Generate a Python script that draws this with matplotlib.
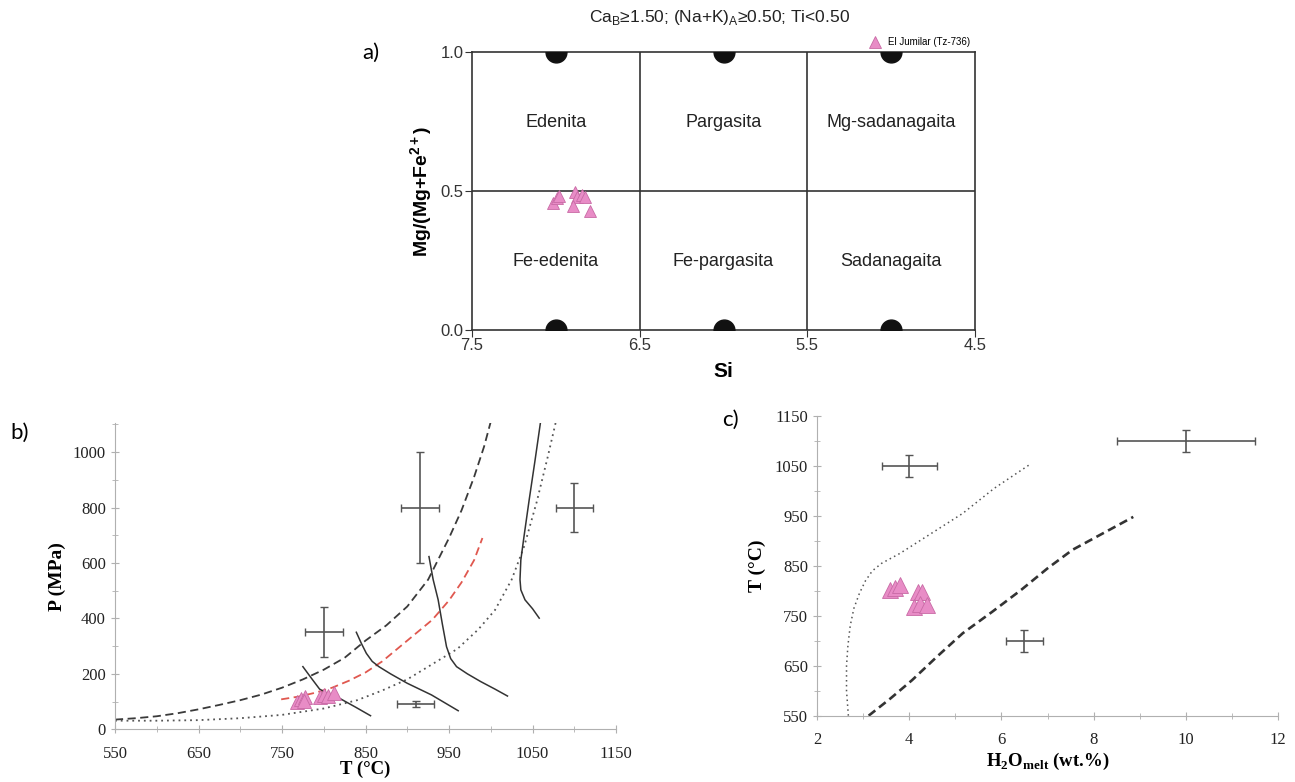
import numpy as np
import matplotlib
matplotlib.use("Agg")
import matplotlib.pyplot as plt
from matplotlib.ticker import MultipleLocator

plt.rcParams["mathtext.fontset"] = "custom"
plt.rcParams["mathtext.rm"] = "Liberation Serif"
plt.rcParams["mathtext.bf"] = "Liberation Serif:bold"

# ── panel a: classification diagram ──────────────────────────────────────────
a_si = [7.015, 6.991, 6.981, 6.886, 6.876, 6.846, 6.826, 6.900, 6.796]
a_mg = [0.456, 0.474, 0.482, 0.497, 0.479, 0.486, 0.477, 0.446, 0.429]
end_si = [7.0, 6.0, 5.0]
field_names_top = ["Edenita", "Pargasita", "Mg-sadanagaita"]
field_names_bot = ["Fe-edenita", "Fe-pargasita", "Sadanagaita"]

# ── panel b: P-T ─────────────────────────────────────────────────────────────
b_T = [768, 773, 778, 776, 795, 800, 805, 812]
b_P = [100, 108, 115, 103, 118, 124, 120, 132]
dash_T = [550, 575, 600, 625, 650, 675, 700, 725, 750, 775, 800, 825, 850, 875, 900, 925, 950, 965, 980, 992, 1000]
dash_P = [35, 40, 47, 58, 72, 88, 105, 125, 150, 180, 215, 258, 320, 375, 443, 540, 690, 790, 910, 1020, 1110]
red_T = [749, 770, 790, 810, 830, 850, 870, 890, 910, 930, 950, 965, 980, 990]
red_P = [108, 118, 132, 150, 175, 205, 245, 295, 345, 395, 465, 530, 610, 690]
dot_T = [550, 600, 650, 700, 750, 800, 840, 870, 900, 930, 960, 985, 1005, 1025, 1040, 1055, 1068, 1078]
dot_P = [31, 31, 33, 40, 52, 75, 105, 140, 180, 235, 290, 360, 430, 540, 660, 820, 980, 1110]
iso_T = [[775, 785, 795, 805, 820, 838, 856],
         [839, 845, 851, 858, 866, 880, 900, 929, 961],
         [926, 931, 937, 942, 947, 952, 959, 972, 988, 1005, 1020],
         [1060, 1053, 1046, 1040, 1036, 1035, 1036, 1041, 1050, 1058]]
iso_P = [[226, 185, 145, 128, 110, 80, 49],
         [350, 310, 274, 245, 226, 200, 166, 124, 67],
         [623, 540, 467, 380, 298, 255, 226, 200, 172, 145, 120],
         [1117, 970, 828, 700, 611, 540, 503, 467, 435, 401]]
b_err_T = [800, 915, 1100, 910]
b_err_P = [350, 800, 800, 91]
b_err_dT = [22.5, 22.5, 22, 22]
b_err_dP = [90, 200, 89, 10]

# ── panel c: T-H2O ───────────────────────────────────────────────────────────
c_h2o = [3.59, 3.70, 3.80, 4.18, 4.27, 4.10, 4.23, 4.38]
c_T = [802, 805, 812, 797, 798, 768, 774, 772]
cdot_h = [2.68, 2.64, 2.64, 2.67, 2.72, 2.80, 2.92, 3.05, 3.20, 3.40, 3.80, 4.48, 5.16, 5.84, 6.60]
cdot_T = [550, 600, 650, 690, 730, 765, 795, 820, 840, 855, 875, 915, 955, 1005, 1052]
cdash_h = [3.12, 3.6, 4.06, 4.6, 5.16, 5.8, 6.43, 7.0, 7.54, 8.2, 8.86]
cdash_T = [550, 585, 621, 668, 715, 758, 802, 845, 882, 915, 948]
c_err_h = [4.0, 10.0, 6.5]
c_err_T = [1050, 1100, 700]
c_err_dh = [0.6, 1.5, 0.4]
c_err_dT = [22, 22, 22]

PINK = "#e88cc6"
PINK_EDGE = "#c86aa5"
SERIF = ["Liberation Serif", "DejaVu Serif"]
SANS = ["Liberation Sans", "DejaVu Sans"]

fig = plt.figure(figsize=(12.95, 7.82), dpi=100)

# ── a) ───────────────────────────────────────────────────────────────────────
ax_a = fig.add_axes([0.3645, 0.578, 0.3884, 0.3555])
ax_a.set_xlim(7.5, 4.5)
ax_a.set_ylim(0, 1)
for s in (6.5, 5.5):
    ax_a.axvline(s, color="#333333", lw=1.2)
ax_a.axhline(0.5, color="#333333", lw=1.2)
for sp in ax_a.spines.values():
    sp.set_color("#333333")
    sp.set_linewidth(1.2)
ax_a.plot(end_si, [1.0] * 3, "o", color="#111111", ms=15, clip_on=True, zorder=3)
ax_a.plot(end_si, [0.0] * 3, "o", color="#111111", ms=15, clip_on=True, zorder=3)
for s, name in zip(end_si, field_names_top):
    ax_a.text(s, 0.745, name, ha="center", va="center", fontsize=13, family=SANS, color="#222222")
for s, name in zip(end_si, field_names_bot):
    ax_a.text(s, 0.245, name, ha="center", va="center", fontsize=13, family=SANS, color="#222222")
ax_a.plot(a_si, a_mg, "^", color=PINK, mec=PINK_EDGE, mew=0.6, ms=9, ls="none",
          label="El Jumilar (Tz-736)", zorder=4)
ax_a.set_xticks([7.5, 6.5, 5.5, 4.5])
ax_a.set_xticklabels(["7.5", "6.5", "5.5", "4.5"])
ax_a.set_yticks([0.0, 0.5, 1.0])
ax_a.set_yticklabels(["0.0", "0.5", "1.0"])
ax_a.tick_params(labelsize=12, length=5, color="#333333", labelcolor="#333333", pad=1)
for lab in ax_a.get_xticklabels() + ax_a.get_yticklabels():
    lab.set_family(SANS)
ax_a.set_xlabel("Si", fontsize=15, fontweight="bold", family=SANS, labelpad=6)
ax_a.set_ylabel(r"Mg/(Mg+Fe$^\mathregular{2+}$)", fontsize=14, fontweight="bold", family=SANS, labelpad=4)
ax_a.legend(loc="lower right", bbox_to_anchor=(1.0, 1.0), frameon=False,
            handletextpad=0.3, borderaxespad=0.1, markerscale=1.0,
            prop={"family": SANS, "size": 7})
fig.text(0.556, 0.977, r"Ca$_\mathregular{B}$≥1.50; (Na+K)$_\mathregular{A}$≥0.50; Ti<0.50",
         ha="center", va="center", fontsize=12.5, family=SANS, color="#222222")

# ── b) ───────────────────────────────────────────────────────────────────────
ax_b = fig.add_axes([0.0888, 0.0674, 0.3869, 0.3917])
ax_b.plot(dash_T, dash_P, color="#3a3a3a", lw=1.3, dashes=(4.5, 2.5))
ax_b.plot(red_T, red_P, color="#e0584f", lw=1.3, dashes=(4.5, 2.5))
ax_b.plot(dot_T, dot_P, color="#555555", lw=1.3, dashes=(1, 2.2))
for tt, pp in zip(iso_T, iso_P):
    ax_b.plot(tt, pp, color="#333333", lw=1.1)
ax_b.errorbar(b_err_T, b_err_P, xerr=b_err_dT, yerr=b_err_dP, fmt="none",
              ecolor="#555555", elinewidth=1.2, capsize=3, capthick=1.0)
ax_b.plot(b_T, b_P, "^", color=PINK, mec=PINK_EDGE, mew=0.6, ms=10, ls="none", zorder=4)
ax_b.set_xlim(550, 1150)
ax_b.set_ylim(0, 1105)
ax_b.spines["top"].set_visible(False)
ax_b.spines["right"].set_visible(False)
for sp in ("left", "bottom"):
    ax_b.spines[sp].set_color("#b0b0b0")
ax_b.set_xticks(np.arange(550, 1151, 100))
ax_b.xaxis.set_minor_locator(MultipleLocator(50))
ax_b.yaxis.set_major_locator(MultipleLocator(200))
ax_b.yaxis.set_minor_locator(MultipleLocator(100))
ax_b.tick_params(which="both", direction="inout", color="#b0b0b0", labelsize=12, labelcolor="#222222")
ax_b.tick_params(which="major", length=6)
ax_b.tick_params(which="minor", length=4)
ax_b.tick_params(axis="x", pad=9)
for lab in ax_b.get_xticklabels() + ax_b.get_yticklabels():
    lab.set_family(SERIF)
ax_b.set_xlabel("T (°C)", fontsize=13.5, fontweight="bold", family=SERIF, labelpad=-1)
ax_b.set_ylabel("P (MPa)", fontsize=14, fontweight="bold", family=SERIF, labelpad=5)

# ── c) ───────────────────────────────────────────────────────────────────────
ax_c = fig.add_axes([0.6309, 0.0848, 0.356, 0.3832])
ax_c.plot(cdot_h, cdot_T, color="#555555", lw=1.1, dashes=(1, 2.2))
ax_c.plot(cdash_h, cdash_T, color="#333333", lw=1.9, dashes=(3.2, 1.8))
ax_c.errorbar(c_err_h, c_err_T, xerr=c_err_dh, yerr=c_err_dT, fmt="none",
              ecolor="#555555", elinewidth=1.2, capsize=3, capthick=1.0)
ax_c.plot(c_h2o, c_T, "^", color=PINK, mec=PINK_EDGE, mew=0.6, ms=11, ls="none", zorder=4)
ax_c.set_xlim(2, 12)
ax_c.set_ylim(550, 1150)
ax_c.spines["top"].set_visible(False)
ax_c.spines["right"].set_visible(False)
for sp in ("left", "bottom"):
    ax_c.spines[sp].set_color("#b0b0b0")
ax_c.xaxis.set_major_locator(MultipleLocator(2))
ax_c.xaxis.set_minor_locator(MultipleLocator(1))
ax_c.set_yticks(np.arange(550, 1151, 100))
ax_c.yaxis.set_minor_locator(MultipleLocator(50))
ax_c.tick_params(which="both", direction="inout", color="#b0b0b0", labelsize=12, labelcolor="#222222")
ax_c.tick_params(which="major", length=6)
ax_c.tick_params(which="minor", length=4)
ax_c.tick_params(axis="x", pad=9)
for lab in ax_c.get_xticklabels() + ax_c.get_yticklabels():
    lab.set_family(SERIF)
ax_c.set_xlabel(r"H$_\mathbf{2}$O$_\mathbf{melt}$ (wt.%)", fontsize=13.5, fontweight="bold",
                family=SERIF, labelpad=2)
ax_c.set_ylabel("T (°C)", fontsize=14, fontweight="bold", family=SERIF, labelpad=6)

# panel letters
for x, y, s in [(0.280, 0.932, "a)"), (0.008, 0.446, "b)"), (0.558, 0.463, "c)")]:
    fig.text(x, y, s, fontsize=16, family=["Lato", "DejaVu Sans"], va="center")

fig.savefig("out.png", dpi=100)
